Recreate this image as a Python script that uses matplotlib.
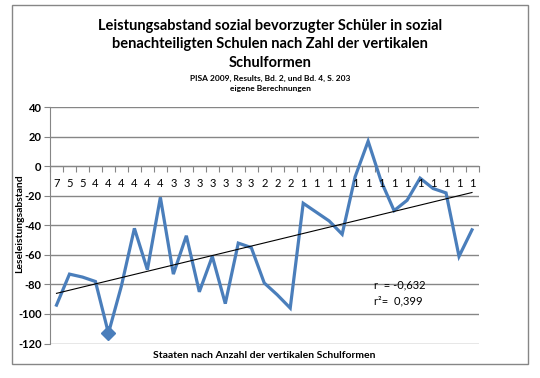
import numpy as np
import matplotlib
matplotlib.use("Agg")
import matplotlib.pyplot as plt
from matplotlib.patches import Rectangle

plt.rcParams['font.family'] = ['Lato', 'DejaVu Sans']

# ---- data ----
schulformen = ["7", "5", "5", "4", "4", "4", "4", "4", "4", "3", "3", "3", "3", "3", "3", "3",
               "2", "2", "2", "1", "1", "1", "1", "1", "1", "1", "1", "1", "1", "1", "1", "1", "1"]
leseleistungsabstand = [-94, -73, -75, -78, -113, -81, -42, -70, -21, -73, -47, -85, -61, -93,
                        -52, -55, -79, -87, -96, -25, -31, -37, -46, -7, 17, -10, -30, -23,
                        -8, -15, -18, -61, -43]
min_index = [4]
y_ticks = [40, 20, 0, -20, -40, -60, -80, -100, -120]

title = ("Leistungsabstand sozial bevorzugter Schüler in sozial\n"
         "benachteiligten Schulen nach Zahl der vertikalen\nSchulformen")
subtitle = "PISA 2009, Results, Bd. 2, und Bd. 4, S. 203\neigene Berechnungen"
xlabel = "Staaten nach Anzahl der vertikalen Schulformen"
ylabel = "Leseleistungsabstand"
stats_text = ["r  = -0,632", "r\u00b2=  0,399"]

W, H = 540, 378
fig = plt.figure(figsize=(W / 100, H / 100), dpi=100)
fig.patch.set_facecolor('white')

grey = '#868686'
fig.add_artist(Rectangle((12 / W, 1 - 364 / H), (528 - 12) / W, (364 - 5) / H,
                         transform=fig.transFigure, fill=False, edgecolor=grey, lw=1))

ax = fig.add_axes([50 / W, 1 - 343.5 / H, (478.5 - 50) / W, (343.5 - 107.3) / H])
n = len(leseleistungsabstand)
x = np.arange(n)
y = np.array(leseleistungsabstand, dtype=float)

ax.set_xlim(-0.5, n - 0.5)
ax.set_ylim(-120, 40)
ax.set_yticks(y_ticks)
ax.set_yticklabels([str(v) for v in y_ticks], fontweight='bold', fontsize=8)
ax.yaxis.grid(True, color=grey, lw=1)
ax.set_axisbelow(True)
ax.tick_params(axis='y', direction='out', length=4, color=grey, pad=2)

for s in ['top', 'right']:
    ax.spines[s].set_visible(False)
ax.spines['left'].set_color(grey)
ax.spines['bottom'].set_position(('data', 0))
ax.spines['bottom'].set_color(grey)

ax.set_xticks(np.arange(-0.5, n, 1.0))
ax.set_xticklabels([])
ax.tick_params(axis='x', which='major', direction='out', length=4, color=grey)

# category labels drawn above the data line (as in the reference)
for xi, lab in zip(x, schulformen):
    ax.annotate(lab, xy=(xi, 0), xytext=(0, -12.3), textcoords='offset points',
                ha='center', va='center', fontsize=8, zorder=6, annotation_clip=False)

ax.plot(x, y, color='#4A7EBB', lw=2.3, solid_joinstyle='miter', zorder=3)
ax.plot(x[min_index], y[min_index], 'D', color='#4A7EBB', markersize=7.5, zorder=4)

coef = np.polyfit(x, y, 1)
ax.plot(x, np.polyval(coef, x), color='black', lw=0.8, zorder=4)

fig.text(270 / W, 1 - 19 / H, title, ha='center', va='top', fontsize=10.5,
         fontweight='bold', linespacing=1.4)
fig.text(270 / W, 1 - 75 / H, subtitle, ha='center', va='top', fontsize=6,
         fontweight='bold', linespacing=1.5)
fig.text(264 / W, 1 - 355 / H, xlabel, ha='center', va='center', fontsize=7.5,
         fontweight='bold')
fig.text(20 / W, 1 - 224 / H, ylabel, ha='center', va='center', rotation=90,
         fontsize=7.5, fontweight='bold')
fig.text(374 / W, 1 - 285 / H, stats_text[0], ha='left', va='center', fontsize=8)
fig.text(374 / W, 1 - 301 / H, stats_text[1], ha='left', va='center', fontsize=8)

fig.savefig('out.png', dpi=100, facecolor='white')
